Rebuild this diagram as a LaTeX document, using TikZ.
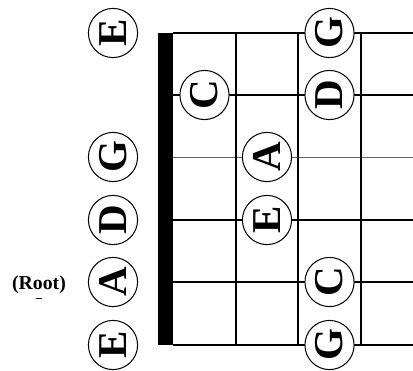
\documentclass[tikz,border=0pt]{standalone}
\usepackage{fontspec}
\setmainfont{Liberation Serif}
\usetikzlibrary{positioning}

\begin{document}
\begin{tikzpicture}[
    x=0.024cm, y=-0.024cm,
    notecirc/.style={circle, draw=black, line width=0.7pt, fill=white, minimum size=1.18cm,
      inner sep=0pt, font=\fontsize{28}{28}\selectfont\bfseries, rotate=90},
    gstring/.style={line width=1pt},
    fretline/.style={line width=0.7pt},
  ]
  \useasboundingbox (0,0) rectangle (413,370);

  % strings, frets and nut
  \foreach \y in {33,95,220,282,345}
    \draw[gstring] (173,\y) -- (413,\y);
  \draw[gstring, line width=0.6pt, black!60] (173,157) -- (413,157);
  \foreach \x in {236,298,361}
    \draw[fretline] (\x,33) -- (\x,345);
  \fill[black] (158,33) rectangle (173,345);

  % open strings
  \node[notecirc] (e0)  at (113,33)  {E};
  \node[notecirc] (g0)  at (113,157) {G};
  \node[notecirc] (d0)  at (113,220) {D};
  \node[notecirc] (a0)  at (113,282) {A};
  \node[notecirc] (el0) at (113,345) {E};

  \node[font=\fontsize{13.5}{15}\selectfont\bfseries] (root) at (39,285) {(Root)};
  \draw[line width=0.6pt] (36,298) -- (42,298);

  % fretted notes
  \node[notecirc] (c1) at (204.5,95)  {C};
  \node[notecirc] (a2) at (267,157)   {A};
  \node[notecirc] (e2) at (267,220)   {E};
  \node[notecirc] (g3) at (329.5,33)  {G};
  \node[notecirc] (d3) at (329.5,95)  {D};
  \node[notecirc] (c3) at (329.5,282) {C};
  \node[notecirc] (gl3) at (329.5,345) {G};
\end{tikzpicture}
\end{document}
